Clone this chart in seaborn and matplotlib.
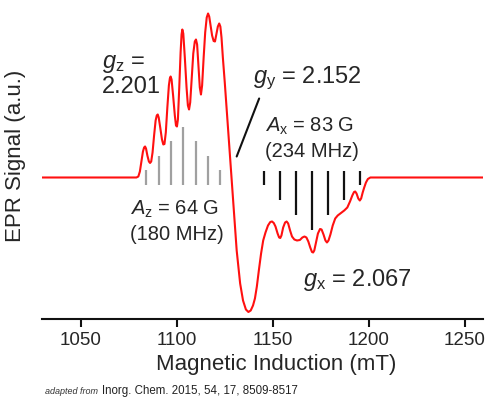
import numpy as np
import pandas as pd
import matplotlib
matplotlib.use("Agg")
import matplotlib.pyplot as plt
import seaborn as sns

field = [1030, 1079, 1080.0, 1080.8, 1081.6, 1082.4, 1083.0, 1083.5, 1084.0, 1084.7,
         1085.5, 1086.1, 1086.7, 1087.4, 1088.2, 1089.0, 1089.6, 1090.1, 1090.6, 1091.4,
         1092.3, 1093.0, 1093.6, 1094.3, 1095.1, 1095.9, 1096.4, 1096.8, 1097.3, 1098.1,
         1099.0, 1099.6, 1100.1, 1100.6, 1101.3, 1102.0, 1102.5, 1102.9, 1103.4, 1104.2,
         1105.1, 1105.8, 1106.4, 1107.0, 1107.8, 1108.6, 1109.4, 1110.0, 1110.6, 1111.3,
         1112.0, 1112.6, 1113.2, 1114.0, 1114.8, 1115.6, 1116.3, 1116.9, 1117.6, 1118.4,
         1119.2, 1119.9, 1120.6, 1121.4, 1122.1, 1122.7, 1123.3, 1124.0, 1125.0, 1126.0,
         1127.7, 1129.4, 1131.2, 1133.0, 1134.5, 1136.0, 1137.3, 1138.5, 1139.7, 1140.7,
         1141.7, 1142.8, 1143.9, 1145.0, 1146.2, 1147.5, 1148.7, 1149.6, 1150.5, 1151.4,
         1152.5, 1153.3, 1153.9, 1154.5, 1155.4, 1156.4, 1157.2, 1158.0, 1159.0, 1160.0,
         1161.2, 1162.6, 1164.1, 1165.4, 1166.5, 1167.5, 1168.5, 1169.5, 1170.4, 1171.0,
         1171.6, 1172.5, 1173.5, 1174.6, 1175.4, 1176.4, 1177.4, 1178.2, 1179.0, 1180.0,
         1181.2, 1182.5, 1183.8, 1185.5, 1187.2, 1188.8, 1190.2, 1191.4, 1192.3, 1192.9,
         1193.6, 1194.5, 1195.3, 1196.0, 1196.8, 1197.6, 1198.5, 1199.5, 1200.8, 1260]
signal = [0, 0, 0.01, 0.06, 0.16, 0.26, 0.30, 0.31, 0.29, 0.22,
          0.16, 0.145, 0.16, 0.25, 0.42, 0.57, 0.62, 0.63, 0.60, 0.50,
          0.38, 0.33, 0.335, 0.45, 0.70, 0.92, 0.99, 1.01, 0.98, 0.82,
          0.62, 0.52, 0.51, 0.58, 0.90, 1.25, 1.43, 1.48, 1.44, 1.20,
          0.90, 0.72, 0.68, 0.75, 1.00, 1.24, 1.36, 1.38, 1.33, 1.12,
          0.90, 0.83, 0.92, 1.20, 1.45, 1.60, 1.64, 1.61, 1.52, 1.42,
          1.365, 1.36, 1.43, 1.51, 1.54, 1.51, 1.40, 1.20, 0.95, 0.68,
          0.21, -0.23, -0.73, -1.06, -1.23, -1.32, -1.345, -1.33, -1.28, -1.21,
          -1.09, -0.92, -0.76, -0.63, -0.55, -0.48, -0.445, -0.44, -0.455, -0.49,
          -0.56, -0.60, -0.605, -0.58, -0.50, -0.45, -0.44, -0.46, -0.53, -0.59,
          -0.62, -0.63, -0.625, -0.60, -0.59, -0.60, -0.64, -0.70, -0.745, -0.75,
          -0.73, -0.65, -0.56, -0.515, -0.52, -0.57, -0.63, -0.65, -0.63, -0.57,
          -0.48, -0.41, -0.38, -0.355, -0.33, -0.30, -0.24, -0.18, -0.145, -0.14,
          -0.16, -0.21, -0.23, -0.21, -0.15, -0.10, -0.05, -0.015, 0, 0]

# hyperfine stick patterns
stick_z_pos = [1084.2, 1090.6, 1097.0, 1103.4, 1109.8, 1116.2, 1122.6]
stick_x_pos = [1145.6, 1153.9, 1162.2, 1170.5, 1178.8, 1187.1, 1195.4]
stick_int = [1, 2, 3, 4, 3, 2, 1]

xticks = [1050, 1100, 1150, 1200, 1250]

sns.set_style("ticks")
plt.rcParams['font.family'] = ['Liberation Sans', 'DejaVu Sans']
plt.rcParams['mathtext.fontset'] = 'custom'
plt.rcParams['mathtext.rm'] = 'Liberation Sans'
plt.rcParams['mathtext.it'] = 'Liberation Sans:italic'

fig = plt.figure(figsize=(4.88, 3.97), dpi=100)
ax = fig.add_axes([0.0855, 0.1965, 0.9045, 0.8035])

df = pd.DataFrame({"field": field, "signal": signal})
sns.lineplot(data=df, x="field", y="signal", sort=False, estimator=None,
             color="#ff1010", lw=1.5, ax=ax)

# sticks
base_z = -0.075
ax.vlines(stick_z_pos, base_z, base_z + 0.145 * np.array(stick_int),
          color="#a0a0a0", lw=1.6)
top_x = 0.068
ax.vlines(stick_x_pos, top_x - 0.148 * np.array(stick_int), top_x,
          color="#111111", lw=1.6)

# g_y pointer
ax.plot([1131.2, 1142.9], [0.21, 0.79], color="#111111", lw=1.5)

fs = 17
ax.text(1061.1, 1.095, r"$\mathit{g}_\mathrm{z}$ =", fontsize=fs, va="baseline")
ax.text(1061.1, 0.84, "2.201", fontsize=fs, va="baseline")
ax.text(1139.7, 0.94, r"$\mathit{g}_\mathrm{y}$ = 2.152", fontsize=fs, va="baseline")
ax.text(1165.5, -1.09, r"$\mathit{g}_\mathrm{x}$ = 2.067", fontsize=fs, va="baseline")
ax.text(1145.9, 0.458, r"$\mathit{A}_\mathrm{x}$ = 83 G", fontsize=14.5, va="baseline")
ax.text(1145.9, 0.208, "(234 MHz)", fontsize=14.5, va="baseline")
ax.text(1075.7, -0.375, r"$\mathit{A}_\mathrm{z}$ = 64 G", fontsize=14.5, va="baseline")
ax.text(1075.7, -0.625, "(180 MHz)", fontsize=14.5, va="baseline")

ax.set_xlim(1029.7, 1259.5)
ax.set_ylim(-1.415, 1.775)
ax.set_xticks(xticks)
ax.set_yticks([])
ax.tick_params(axis="x", labelsize=13.5, length=5.5, width=1.5, pad=4, color="#111111")
sns.despine(ax=ax, left=True, top=True, right=True)
ax.spines["bottom"].set_linewidth(1.5)
ax.spines["bottom"].set_color("#111111")

ax.set_xlabel("Magnetic Induction (mT)", fontsize=16)
ax.xaxis.set_label_coords(0.532, -0.11)
ax.set_ylabel("EPR Signal (a.u.)", fontsize=16)
ax.yaxis.set_label_coords(-0.035, 0.511)

fig.text(0.092, 0.008, "adapted from", fontsize=6.5, style="italic", color="#333333")
fig.text(0.208, 0.008, "Inorg. Chem. 2015, 54, 17, 8509-8517", fontsize=8.3, color="#222222")

fig.savefig("out.png", dpi=100)
